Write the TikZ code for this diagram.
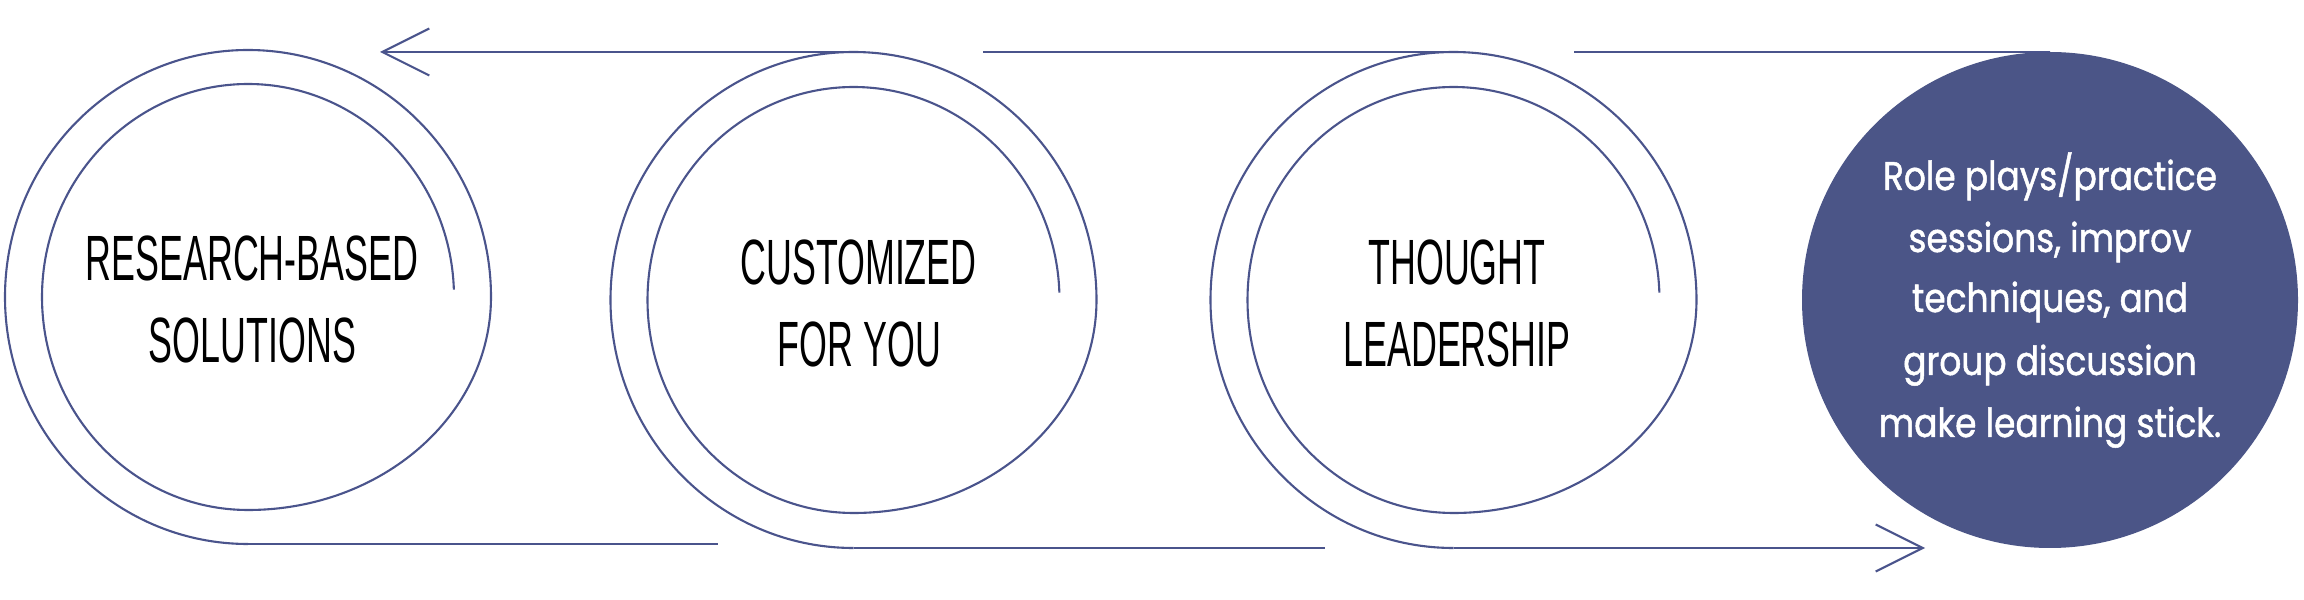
\documentclass[tikz,border=0pt]{standalone}
\usepackage{fontspec}
\usetikzlibrary{arrows.meta}
\newfontfamily\condfont[FakeStretch=0.56]{Liberation Sans}
\newfontfamily\geofont[FakeStretch=0.86, FakeBold=1.2]{Poppins}
\definecolor{navy}{RGB}{75,85,135}
\definecolor{lncol}{RGB}{74,84,140}
\tikzset{
  ln/.style={draw=lncol, line width=1.05pt},
  barb/.style={-{Straight Barb[length=23.5pt,width=23.5pt]}},
  captxt/.style={anchor=base, inner sep=0pt, font=\condfont\fontsize{32}{38}\selectfont, text=black},
  wtxt/.style={anchor=base, inner sep=0pt, font=\geofont\fontsize{20}{24}\selectfont, text=white},
}
\begin{document}
\begin{tikzpicture}[x=0.5pt,y=0.5pt]
\useasboundingbox (0,0) rectangle (2304,600);
\fill[white] (0,0) rectangle (2304,600);
% centres
\coordinate (c1) at (248,303);
\coordinate (c2) at (853.5,300);
\coordinate (c3) at (1453.5,300);
\coordinate (c4) at (2050,300);
% spirals
\foreach \c/\ry in {c1/247,c2/248,c3/248}{
  \begin{scope}[shift={(\c)}]
    \draw[ln] (0,-\ry) arc[start angle=-90, end angle=-360, x radius=243, y radius=\ry]
      .. controls (243,-118) and (134,-213) .. (0,-213)
      arc[start angle=-90, end angle=-358, x radius=206, y radius=213];
  \end{scope}
}
% filled circle
\node[circle, fill=navy, minimum size=496*0.5pt, inner sep=0pt] (n4) at (c4) {};
% line end points
\coordinate (t2) at (853.5,548);
\coordinate (a1) at (380,548);
\coordinate (t3s) at (983,548);
\coordinate (t3) at (1453.5,548);
\coordinate (t4s) at (1574,548);
\coordinate (t4) at (2050,548);
\coordinate (b1) at (248,56);
\coordinate (b1e) at (718,56);
\coordinate (b2) at (853.5,52);
\coordinate (b2e) at (1325,52);
\coordinate (b3) at (1453.5,52);
\coordinate (a2) at (1925,52);
% connectors
\draw[ln, barb] (t2) -- (a1);
\draw[ln] (t3s) -- (t3);
\draw[ln] (t4s) -- (t4);
\draw[ln] (b1) -- (b1e);
\draw[ln] (b2) -- (b2e);
\draw[ln, barb] (b3) -- (a2);
% texts
\node[captxt] (l1a) at (252,319) {RESEARCH-BASED};
\node[captxt] (l1b) at (252.5,237) {SOLUTIONS};
\node[captxt] (l2a) at (858.5,315) {CUSTOMIZED};
\node[captxt] (l2b) at (859.5,233) {FOR YOU};
\node[captxt] (l3a) at (1457,315) {THOUGHT};
\node[captxt] (l3b) at (1457,233) {LEADERSHIP};
\node[wtxt] (w1) at (2050,410) {Role plays/practice};
\node[wtxt] (w2) at (2050,348) {sessions, improv};
\node[wtxt] (w3) at (2050,288) {techniques, and};
\node[wtxt] (w4) at (2050,225) {group discussion};
\node[wtxt] (w5) at (2050,163) {make learning stick.};
\end{tikzpicture}
\end{document}
